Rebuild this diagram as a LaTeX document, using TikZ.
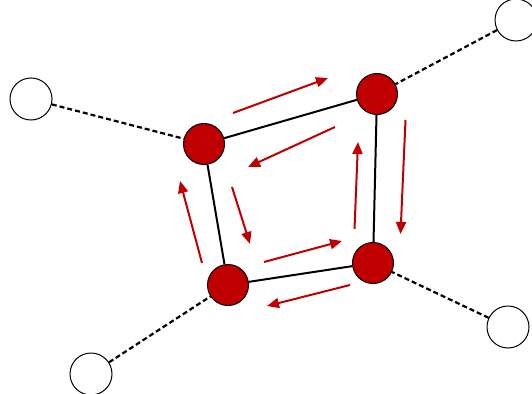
\documentclass[tikz,border=0pt]{standalone}
\usetikzlibrary{arrows.meta}
\definecolor{nred}{HTML}{C00000}
\begin{document}
\begin{tikzpicture}[x=1pt,y=-1pt,
  rednode/.style={circle,draw=black,line width=1pt,fill=nred,minimum size=41pt,inner sep=0pt},
  whitenode/.style={circle,draw=black,line width=1pt,fill=white,minimum size=42pt,inner sep=0pt},
  edge/.style={draw=black,line width=2pt},
  dashedge/.style={draw=black,line width=2.2pt,dash pattern=on 5pt off 3pt},
  flow/.style={draw=nred,line width=2pt,-{Triangle[length=12pt,width=10pt]}}]
\useasboundingbox (0,0) rectangle (532,393);
\node[rednode] (A) at (204,144) {};
\node[rednode] (B) at (377,94) {};
\node[rednode] (C) at (373,263) {};
\node[rednode] (D) at (228,285) {};
\node[whitenode] (W1) at (31,99) {};
\node[whitenode] (W2) at (516,20) {};
\node[whitenode] (W3) at (508,327) {};
\node[whitenode] (W4) at (91,374) {};
\draw[edge] (A) -- (B);
\draw[edge] (B) -- (C);
\draw[edge] (C) -- (D);
\draw[edge] (D) -- (A);
\draw[dashedge] (W1) -- (A);
\draw[dashedge] (W2) -- (B);
\draw[dashedge] (W3) -- (C);
\draw[dashedge] (W4) -- (D);
\coordinate (a1s) at (233,113); \coordinate (a1e) at (328,78);
\coordinate (a2s) at (335,127); \coordinate (a2e) at (248,167);
\coordinate (a3s) at (405.5,120); \coordinate (a3e) at (400.5,234);
\coordinate (a4s) at (354.5,229); \coordinate (a4e) at (358,142);
\coordinate (a5s) at (264,262); \coordinate (a5e) at (342,241);
\coordinate (a6s) at (350,285); \coordinate (a6e) at (267,306);
\coordinate (a7s) at (202,263); \coordinate (a7e) at (180,181);
\coordinate (a8s) at (232,187); \coordinate (a8e) at (250,244);
\draw[flow] (a1s) -- (a1e);
\draw[flow] (a2s) -- (a2e);
\draw[flow] (a3s) -- (a3e);
\draw[flow] (a4s) -- (a4e);
\draw[flow] (a5s) -- (a5e);
\draw[flow] (a6s) -- (a6e);
\draw[flow] (a7s) -- (a7e);
\draw[flow] (a8s) -- (a8e);
\end{tikzpicture}
\end{document}
